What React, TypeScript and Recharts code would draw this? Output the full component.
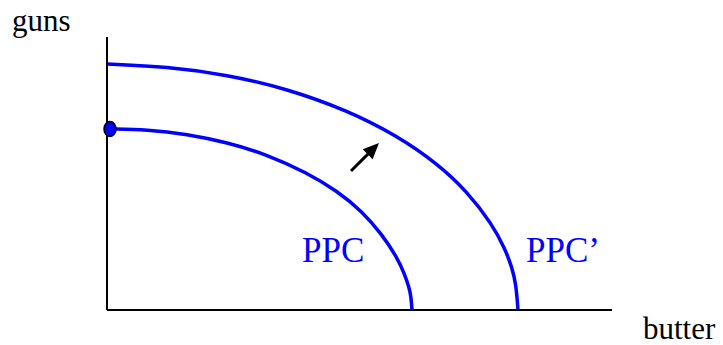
import { LineChart, Line, XAxis, YAxis, ReferenceDot, ReferenceLine, Label } from 'recharts'

// production possibility curves (x = butter, y = guns)
const ppcButter = [3, 40, 80, 120, 160, 200, 230, 255, 275, 290, 298, 302, 304, 305]
const ppcGuns = [181, 180.4, 175.8, 167.6, 155.4, 137.2, 119.1, 98.8, 75.5, 52.8, 35.1, 22.6, 14, 0]
const ppc2Butter = [0, 60, 120, 180, 240, 290, 330, 360, 385, 398, 405, 409, 411]
const ppc2Guns = [246, 243.4, 235.3, 221.2, 199.7, 174.3, 146.6, 118.7, 86.1, 61.3, 42.5, 26, 0]

const pointButter = 3
const pointGuns = 181
const arrowFrom = { x: 244, y: 139 }
const arrowTo = { x: 272, y: 167 }

const ppc = ppcButter.map((x, i) => ({ x, y: ppcGuns[i] }))
const ppc2 = ppc2Butter.map((x, i) => ({ x, y: ppc2Guns[i] }))

const BLUE = '#0000ff'
const FONT = '"Liberation Serif", "Times New Roman", serif'

function Arrow(props: any) {
  const { x1, y1, x2, y2 } = props
  const dx = x2 - x1
  const dy = y2 - y1
  const len = Math.sqrt(dx * dx + dy * dy)
  const ux = dx / len
  const uy = dy / len
  const head = 16
  const half = 7
  const bx = x2 - ux * head
  const by = y2 - uy * head
  const pts = `${x2},${y2} ${bx - uy * half},${by + ux * half} ${bx + uy * half},${by - ux * half}`
  return (
    <g>
      <line x1={x1} y1={y1} x2={bx + ux * 2} y2={by + uy * 2} stroke="#000" strokeWidth={3} />
      <polygon points={pts} fill="#000" />
    </g>
  )
}

function Dot(props: any) {
  const { cx, cy } = props
  return <ellipse cx={cx} cy={cy} rx={6} ry={7.5} fill={BLUE} stroke="#000" strokeWidth={1.5} />
}

export default function App() {
  return (
    <div style={{ position: 'absolute', left: 0, top: 0, background: '#fff' }}>
      <LineChart width={723} height={345} margin={{ top: 37, right: 111, bottom: 33, left: 105 }}>
        <XAxis
          type="number"
          dataKey="x"
          domain={[0, 505]}
          tick={false}
          tickLine={false}
          height={2}
          axisLine={{ stroke: '#000', strokeWidth: 2 }}
        >
          <Label
            content={() => (
              <text x={643} y={339} fontFamily={FONT} fontSize={31} fill="#000">butter</text>
            )}
          />
        </XAxis>
        <YAxis
          type="number"
          dataKey="y"
          domain={[0, 273]}
          tick={false}
          tickLine={false}
          width={2}
          axisLine={{ stroke: '#000', strokeWidth: 2 }}
        >
          <Label
            content={() => (
              <text x={12} y={31} fontFamily={FONT} fontSize={31} fill="#000">guns</text>
            )}
          />
        </YAxis>
        <Line data={ppc} dataKey="y" type="basis" stroke={BLUE} strokeWidth={3.5} dot={false} isAnimationActive={false} />
        <Line data={ppc2} dataKey="y" type="basis" stroke={BLUE} strokeWidth={3.5} dot={false} isAnimationActive={false} />
        <ReferenceLine segment={[arrowFrom, arrowTo]} shape={Arrow} />
        <ReferenceDot x={pointButter} y={pointGuns} shape={Dot} />
        <ReferenceDot x={200} y={49} r={0}>
          <Label
            content={() => (
              <text x={302} y={262} fontFamily={FONT} fontSize={35} fill={BLUE}>PPC</text>
            )}
          />
        </ReferenceDot>
        <ReferenceDot x={420} y={49} r={0}>
          <Label
            content={() => (
              <text x={526} y={262} fontFamily={FONT} fontSize={35} fill={BLUE}>PPC’</text>
            )}
          />
        </ReferenceDot>
      </LineChart>
    </div>
  )
}
